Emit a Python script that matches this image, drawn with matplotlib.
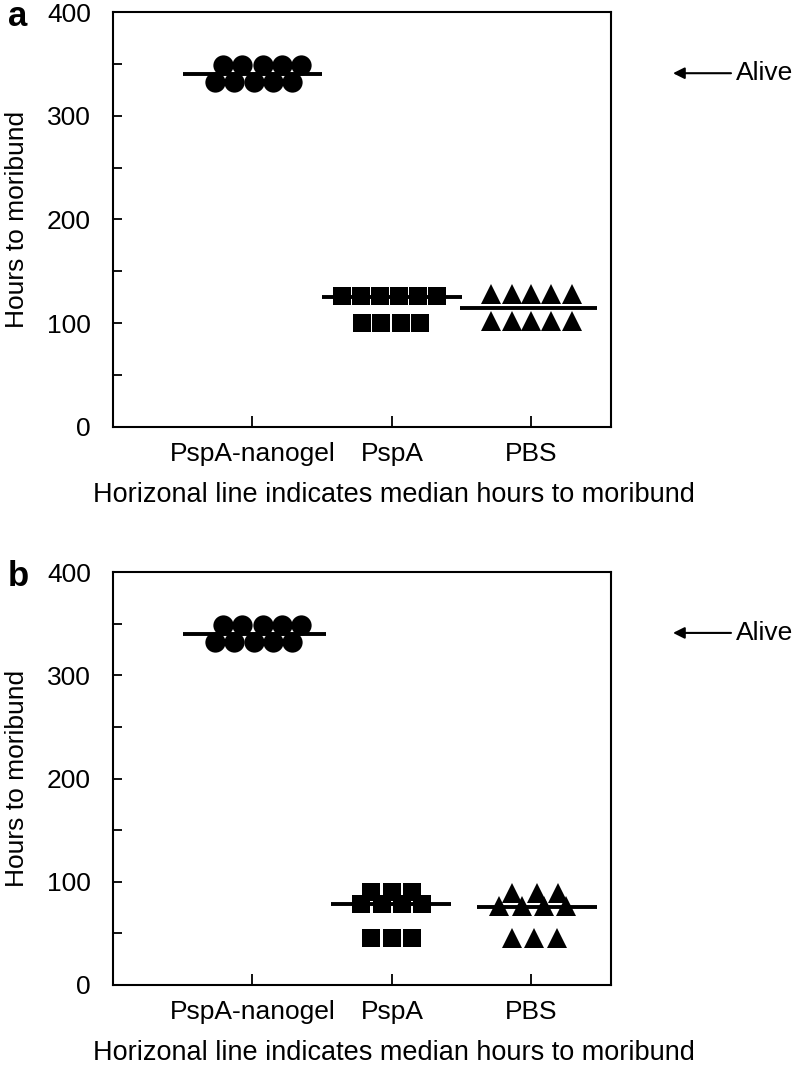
import matplotlib
matplotlib.use("Agg")
import matplotlib.pyplot as plt
from matplotlib.ticker import MultipleLocator

plt.rcParams['font.family'] = ['Liberation Sans', 'DejaVu Sans']

# ---------------- data ----------------
categories = ["PspA-nanogel", "PspA", "PBS"]

# Panel a: hours to moribund per mouse
a_nanogel_hours = [349, 349, 349, 349, 349, 333, 333, 333, 333, 333]
a_pspa_hours = [126, 126, 126, 126, 126, 126, 100, 100, 100, 100]
a_pbs_hours = [128, 128, 128, 128, 128, 102, 102, 102, 102, 102]
a_medians = [340, 125, 115]

# Panel b
b_nanogel_hours = [349, 349, 349, 349, 349, 332, 332, 332, 332, 332]
b_pspa_hours = [90, 90, 90, 78, 78, 78, 78, 46, 46, 46]
b_pbs_hours = [89, 89, 89, 76.5, 76.5, 76.5, 76.5, 45.5, 45.5, 45.5]
b_medians = [340, 78, 75.5]

alive_level = 341

# ---------------- layout (horizontal spread of points, line extents) ----------------
off_nanogel = [-0.215, -0.072, 0.072, 0.215, 0.351, -0.27, -0.13, 0.01, 0.145, 0.28]
off_a_pspa = [-0.36, -0.22, -0.086, 0.05, 0.186, 0.32, -0.215, -0.08, 0.065, 0.2]
off_a_pbs = [-0.29, -0.14, 0.0, 0.14, 0.29, -0.29, -0.14, 0.0, 0.14, 0.29]
off_b_pspa = [-0.15, 0.0, 0.145, -0.22, -0.07, 0.075, 0.215, -0.15, 0.0, 0.145]
off_b_pbs = [-0.14, 0.036, 0.19, -0.23, -0.065, 0.09, 0.25, -0.14, 0.02, 0.18]
a_line_ext = [(-0.5, 0.5), (-0.5, 0.5), (-0.51, 0.47)]
b_line_ext = [(-0.5, 0.53), (-0.44, 0.42), (-0.39, 0.47)]

fig = plt.figure(figsize=(7.97, 10.75), dpi=100)
W, H = 797, 1075
AX_W = 498
FS = 19


def make_axes(top_px, bottom_px):
    left, right = 113, 611
    return fig.add_axes([left / W, 1 - bottom_px / H, (right - left) / W, (bottom_px - top_px) / H])


def draw_panel(ax, groups, offsets, medians, line_ext, label, top_px):
    markers = ['o', 's', '^']
    msizes = [14.6, 13.6, 14.0]
    for i, (hours, offs) in enumerate(zip(groups, offsets)):
        xs = [i + 1 + o for o in offs]
        ax.plot(xs, hours, linestyle='none', marker=markers[i], markersize=msizes[i],
                color='black', markeredgewidth=0, clip_on=False, zorder=3)
        x0, x1 = line_ext[i]
        ax.plot([i + 1 + x0, i + 1 + x1], [medians[i], medians[i]], color='black',
                linewidth=2.8, solid_capstyle='butt', zorder=4)
    ax.set_xlim(0, 3.57)
    ax.set_ylim(0, 400)
    ax.set_xticks([1, 2, 3])
    ax.set_xticklabels(categories, fontsize=FS)
    ax.yaxis.set_major_locator(MultipleLocator(100))
    ax.yaxis.set_minor_locator(MultipleLocator(50))
    ax.tick_params(axis='y', which='both', direction='in', length=6.5, width=1.3,
                   labelsize=FS, pad=16)
    ax.tick_params(axis='x', which='major', direction='in', length=8, width=1.3, pad=11)
    for s in ax.spines.values():
        s.set_linewidth(1.5)
    ax.set_ylabel("Hours to moribund", fontsize=FS)
    ax.yaxis.set_label_coords(-84 / AX_W, 0.5)
    ax.set_xlabel("Horizonal line indicates median hours to moribund", fontsize=19.5)
    ax.xaxis.set_label_coords(0.564, -55 / (ax.get_position().height * H))
    ax.annotate("", xy=(1.0 + 62 / AX_W, alive_level), xycoords=('axes fraction', 'data'),
                xytext=(1.0 + 120 / AX_W, alive_level), textcoords=('axes fraction', 'data'),
                arrowprops=dict(arrowstyle='-|>', color='black', lw=1.5,
                                mutation_scale=17, shrinkA=0, shrinkB=0))
    ax.text(1.0 + 125 / AX_W, alive_level, "Alive", transform=ax.get_yaxis_transform(),
            fontsize=FS, va='center', ha='left')
    fig.text(8 / W, 1 - (top_px + 5) / H, label, fontsize=25,
             fontweight='bold', va='center', ha='left')


ax_a = make_axes(12, 427)
draw_panel(ax_a, [a_nanogel_hours, a_pspa_hours, a_pbs_hours],
           [off_nanogel, off_a_pspa, off_a_pbs], a_medians, a_line_ext, "a", 12)

ax_b = make_axes(572, 985)
draw_panel(ax_b, [b_nanogel_hours, b_pspa_hours, b_pbs_hours],
           [off_nanogel, off_b_pspa, off_b_pbs], b_medians, b_line_ext, "b", 572)

fig.savefig("out.png", dpi=100)
